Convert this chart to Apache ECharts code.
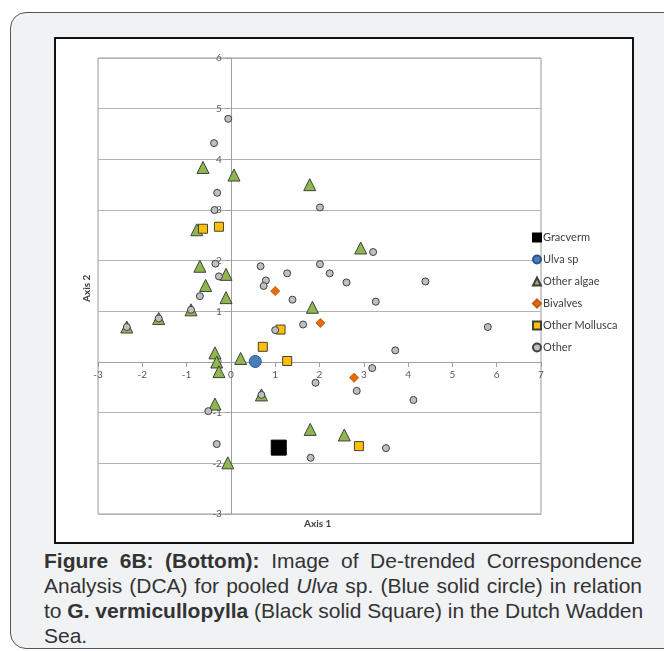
<!DOCTYPE html>
<html>
<head>
<meta charset="utf-8">
<script src="https://cdn.jsdelivr.net/npm/echarts@6/dist/echarts.min.js"></script>
<style>
  html, body { margin: 0; padding: 0; background: #ffffff; width: 664px; height: 651px; overflow: hidden; }
  #outer { position: absolute; left: 10px; top: 12px; width: 700px; height: 637px; background: #f1f2f3;
           border: 1.5px solid #555; border-radius: 16px; box-sizing: border-box; }
  #frame { position: absolute; left: 54px; top: 37px; width: 580px; height: 507px; border: 2px solid #111;
           box-sizing: border-box; background: #fff; }
  #chart { position: absolute; left: 0; top: 0; width: 576px; height: 503px; }
  #caption { position: absolute; left: 44px; top: 548px; width: 598px; font-family: "Liberation Sans", Arial, sans-serif;
             font-size: 21px; line-height: 25px; color: #333; }
  #caption .ln { white-space: nowrap; text-align: justify; text-align-last: justify; }
  #caption .last { text-align: left; text-align-last: left; }
</style>
</head>
<body>
<div id="outer"></div>
<div id="frame"><div id="chart"></div></div>
<div id="caption">
  <div class="ln"><b>Figure 6B: (Bottom):</b> Image of De-trended Correspondence</div>
  <div class="ln">Analysis (DCA) for pooled <i>Ulva</i> sp. (Blue solid circle) in relation</div>
  <div class="ln">to <b>G. vermicullopylla</b> (Black solid Square) in the Dutch Wadden</div>
  <div class="ln last">Sea.</div>
</div>
<script>
// ---- data (Axis 1, Axis 2) ----
const seriesNames = ['Gracverm', 'Ulva sp', 'Other algae', 'Bivalves', 'Other Mollusca', 'Other'];
const gracverm = [[1.08, -1.69]];
const ulva = [[0.55, 0.01]];
const otherAlgae = [
  [-0.63, 3.84], [0.07, 3.69], [1.78, 3.50], [-0.77, 2.61], [2.93, 2.25], [-0.70, 1.89],
  [-0.11, 1.73], [-0.57, 1.51], [-0.11, 1.27], [1.84, 1.08], [-0.90, 1.03], [-1.63, 0.86],
  [-2.35, 0.69], [-0.36, 0.18], [0.22, 0.07], [-0.32, 0.00], [-0.27, -0.19], [0.69, -0.65],
  [-0.36, -0.83], [1.79, -1.33], [2.56, -1.44], [-0.07, -1.99]
];
const bivalves = [[1.00, 1.40], [2.02, 0.77], [2.78, -0.31]];
const otherMollusca = [[-0.63, 2.63], [-0.27, 2.67], [1.12, 0.64], [0.72, 0.30], [1.27, 0.02], [2.89, -1.66]];
const other = [
  [-0.06, 4.80], [-0.38, 4.32], [-0.31, 3.34], [-0.37, 3.00], [2.01, 3.05], [3.21, 2.17],
  [-0.35, 1.94], [-0.27, 1.69], [0.67, 1.89], [0.79, 1.61], [0.74, 1.50], [1.27, 1.75],
  [2.01, 1.93], [2.23, 1.75], [2.61, 1.57], [4.39, 1.59], [-0.70, 1.30], [1.39, 1.23],
  [3.27, 1.19], [-0.90, 1.03], [-1.63, 0.86], [-2.35, 0.69], [1.00, 0.63], [1.63, 0.74],
  [5.80, 0.69], [3.71, 0.23], [3.19, -0.12], [1.91, -0.41], [2.84, -0.57], [0.69, -0.65],
  [-0.51, -0.97], [4.12, -0.75], [3.50, -1.70], [1.80, -1.89], [-0.32, -1.62]
];
const xTicks = { min: -3, max: 7, interval: 1 };
const yTicks = { min: -3, max: 6, interval: 1 };
const axisTitles = ['Axis 1', 'Axis 2'];

const chart = echarts.init(document.getElementById('chart'), null, { renderer: 'canvas' });
const labelFont = 'Lato, "Open Sans", sans-serif';
const edge = '#404040';
const gridW = 443, gridH = 456;
// place each axis line where the other axis is zero
const xAxisOffset = -gridH * (0 - yTicks.min) / (yTicks.max - yTicks.min);
const yAxisOffset = -gridW * (0 - xTicks.min) / (xTicks.max - xTicks.min);
function sc(name, data, symbol, size, color, borderColor) {
  return {
    name: name, type: 'scatter', data: data, symbol: symbol, symbolSize: size,
    itemStyle: { color: color, borderColor: borderColor, borderWidth: 1, opacity: 1 },
    emphasis: { disabled: true }, animation: false
  };
}
chart.setOption({
  animation: false,
  backgroundColor: '#ffffff',
  grid: { left: 42, top: 19, width: gridW, height: gridH, show: true, borderColor: '#9a9a9a', borderWidth: 1, containLabel: false },
  xAxis: {
    type: 'value', min: xTicks.min, max: xTicks.max, interval: xTicks.interval, position: 'bottom', offset: xAxisOffset,
    axisLine: { show: true, onZero: false, lineStyle: { color: '#a0a0a0', width: 1 } },
    axisTick: { show: true, inside: false, length: 5, lineStyle: { color: '#a0a0a0' } },
    axisLabel: { margin: 8, fontSize: 10, color: '#595959', fontFamily: labelFont, showMinLabel: true, showMaxLabel: true },
    splitLine: { show: false }
  },
  yAxis: {
    type: 'value', min: yTicks.min, max: yTicks.max, interval: yTicks.interval, position: 'left', offset: yAxisOffset,
    axisLine: { show: true, onZero: false, lineStyle: { color: '#a0a0a0', width: 1 } },
    axisTick: { show: true, inside: false, length: 6, lineStyle: { color: '#a0a0a0' } },
    axisLabel: { margin: 9, fontSize: 10, color: '#595959', fontFamily: labelFont, showMinLabel: true, showMaxLabel: true },
    splitLine: { show: true, lineStyle: { color: '#b4b4b4', width: 1 } }
  },
  legend: {
    orient: 'vertical', left: 471, top: 188, itemWidth: 8, itemHeight: 8, itemGap: 11,
    data: seriesNames,
    textStyle: { fontSize: 11, color: '#404040', fontFamily: labelFont, padding: [0, 0, 0, -3] },
    selectedMode: false
  },
  graphic: [
    { type: 'text', left: 248, top: 480, style: { text: axisTitles[0], font: 'bold 10px ' + labelFont, fill: '#404040' } },
    { type: 'text', x: 26, y: 263, rotation: Math.PI / 2, style: { text: axisTitles[1], font: 'bold 10px ' + labelFont, fill: '#404040' } }
  ],
  series: [
    sc(seriesNames[0], gracverm, 'rect', 15, '#000000', '#000000'),
    sc(seriesNames[1], ulva, 'circle', 12, '#4a7ebb', '#2f528f'),
    sc(seriesNames[2], otherAlgae, 'triangle', 12, '#8fb74e', edge),
    sc(seriesNames[3], bivalves, 'diamond', 9, '#e46c0a', '#c55a11'),
    sc(seriesNames[4], otherMollusca, 'rect', 9, '#ffc000', edge),
    sc(seriesNames[5], other, 'circle', 7, '#bfbfbf', edge)
  ]
});
</script>
</body>
</html>
